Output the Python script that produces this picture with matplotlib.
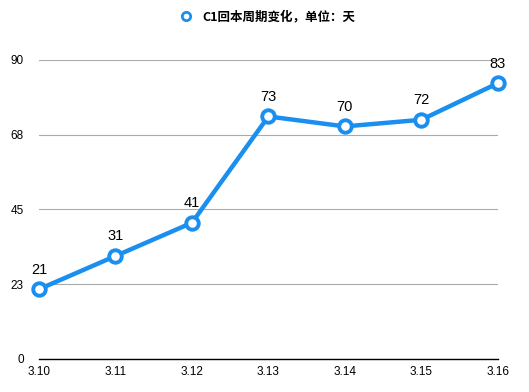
import matplotlib.pyplot as plt
from matplotlib.lines import Line2D

plt.rcParams['font.family'] = ['Noto Sans CJK SC', 'DejaVu Sans']

dates = ['3.10', '3.11', '3.12', '3.13', '3.14', '3.15', '3.16']
days = [21, 31, 41, 73, 70, 72, 83]
yticks = [0, 22.5, 45, 67.5, 90]
ytick_labels = ['0', '23', '45', '68', '90']

blue = '#1a8ff0'

fig = plt.figure(figsize=(5.29, 3.92), dpi=100)
ax = fig.add_axes([0.0737, 0.0842, 0.8673, 0.7628])

x = range(len(dates))
ax.plot(x, days, color=blue, linewidth=3.2, marker='o', markersize=9,
        markerfacecolor='white', markeredgecolor=blue, markeredgewidth=2.8,
        clip_on=False, zorder=3)

for xi, v in zip(x, days):
    ax.annotate(str(v), (xi, v), xytext=(0, 9), textcoords='offset points',
                ha='center', va='bottom', fontsize=10.5, family='Liberation Sans')

ax.set_xlim(0, len(dates) - 1)
ax.set_ylim(0, 90)
ax.set_yticks(yticks)
ax.set_yticklabels(ytick_labels, family='Liberation Sans', fontsize=8.5)
ax.set_xticks(list(x))
ax.set_xticklabels(dates, family='Liberation Sans', fontsize=8.5)
ax.grid(axis='y', color='#aaaaaa', linewidth=0.8)
ax.grid(axis='x', visible=False)
ax.tick_params(axis='both', length=0)
ax.tick_params(axis='y', pad=11)
ax.tick_params(axis='x', pad=5)
for s in ['top', 'right', 'left']:
    ax.spines[s].set_visible(False)
ax.spines['bottom'].set_color('black')
ax.spines['bottom'].set_linewidth(1)
ax.set_axisbelow(True)

handle = Line2D([], [], color=blue, linewidth=0, marker='o', markersize=6,
                markerfacecolor='white', markeredgecolor=blue, markeredgewidth=2)
fig.legend([handle], ['C1回本周期变化，单位：天'], loc='center', bbox_to_anchor=(0.5, 0.958),
           frameon=False, handletextpad=0.3, prop={'size': 9, 'weight': 'bold'})

fig.savefig('out.png', dpi=100)
